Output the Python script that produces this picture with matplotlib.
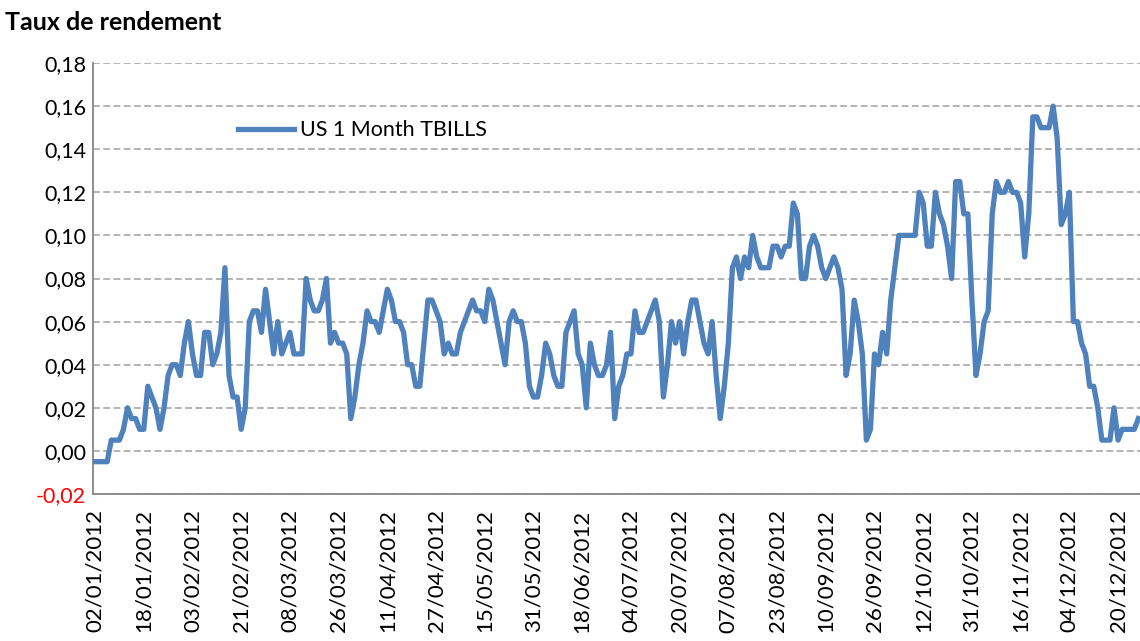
import matplotlib
matplotlib.use("Agg")
import matplotlib.pyplot as plt
from matplotlib.ticker import FuncFormatter

plt.rcParams['font.family'] = ['Lato', 'DejaVu Sans']

# daily 1-month T-bill yields, 2012 (one value per weekday)
tbills = [
    -0.005, -0.005, -0.005, -0.005, 0.005, 0.005, 0.005, 0.01, 0.02, 0.015, 0.015, 0.01,
    0.01, 0.03, 0.025, 0.02, 0.01, 0.02, 0.035, 0.04, 0.04, 0.035, 0.05, 0.06,
    0.045, 0.035, 0.035, 0.055, 0.055, 0.04, 0.045, 0.055, 0.085, 0.035, 0.025, 0.025,
    0.01, 0.02, 0.06, 0.065, 0.065, 0.055, 0.075, 0.06, 0.045, 0.06, 0.045, 0.05,
    0.055, 0.045, 0.045, 0.045, 0.08, 0.07, 0.065, 0.065, 0.07, 0.08, 0.05, 0.055,
    0.05, 0.05, 0.045, 0.015, 0.025, 0.04, 0.05, 0.065, 0.06, 0.06, 0.055, 0.065,
    0.075, 0.07, 0.06, 0.06, 0.055, 0.04, 0.04, 0.03, 0.03, 0.05, 0.07, 0.07,
    0.065, 0.06, 0.045, 0.05, 0.045, 0.045, 0.055, 0.06, 0.065, 0.07, 0.065, 0.065,
    0.06, 0.075, 0.07, 0.06, 0.05, 0.04, 0.06, 0.065, 0.06, 0.06, 0.05, 0.03,
    0.025, 0.025, 0.035, 0.05, 0.045, 0.035, 0.03, 0.03, 0.055, 0.06, 0.065, 0.045,
    0.04, 0.02, 0.05, 0.04, 0.035, 0.035, 0.04, 0.055, 0.015, 0.03, 0.035, 0.045,
    0.045, 0.065, 0.055, 0.055, 0.06, 0.065, 0.07, 0.06, 0.025, 0.04, 0.06, 0.05,
    0.06, 0.045, 0.06, 0.07, 0.07, 0.06, 0.05, 0.045, 0.06, 0.035, 0.015, 0.03,
    0.05, 0.085, 0.09, 0.08, 0.09, 0.085, 0.1, 0.09, 0.085, 0.085, 0.085, 0.095,
    0.095, 0.09, 0.095, 0.095, 0.115, 0.11, 0.08, 0.08, 0.095, 0.1, 0.095, 0.085,
    0.08, 0.085, 0.09, 0.085, 0.075, 0.035, 0.045, 0.07, 0.06, 0.045, 0.005, 0.01,
    0.045, 0.04, 0.055, 0.045, 0.07, 0.085, 0.1, 0.1, 0.1, 0.1, 0.1, 0.12,
    0.115, 0.095, 0.095, 0.12, 0.11, 0.105, 0.095, 0.08, 0.125, 0.125, 0.11, 0.11,
    0.07, 0.035, 0.045, 0.06, 0.065, 0.11, 0.125, 0.12, 0.12, 0.125, 0.12, 0.12,
    0.115, 0.09, 0.11, 0.155, 0.155, 0.15, 0.15, 0.15, 0.16, 0.145, 0.105, 0.11,
    0.12, 0.06, 0.06, 0.05, 0.045, 0.03, 0.03, 0.02, 0.005, 0.005, 0.005, 0.02,
    0.005, 0.01, 0.01, 0.01, 0.01, 0.015,
]

date_labels = [
    "02/01/2012", "18/01/2012", "03/02/2012", "21/02/2012", "08/03/2012", "26/03/2012",
    "11/04/2012", "27/04/2012", "15/05/2012", "31/05/2012", "18/06/2012", "04/07/2012",
    "20/07/2012", "07/08/2012", "23/08/2012", "10/09/2012", "26/09/2012", "12/10/2012",
    "31/10/2012", "16/11/2012", "04/12/2012", "20/12/2012",
]
label_step = 12
y_ticks = [-0.02, 0.0, 0.02, 0.04, 0.06, 0.08, 0.10, 0.12, 0.14, 0.16, 0.18]

fig = plt.figure(figsize=(11.4, 6.41), dpi=100)
ax = fig.add_axes([93 / 1140, 147 / 641, 1 - 93 / 1140, 431 / 641])

ax.plot(range(len(tbills)), tbills, color='#4F81BD', lw=3.8,
        solid_joinstyle='round', label='US 1 Month TBILLS', zorder=3)

ax.set_ylim(-0.02, 0.18)
ax.set_xlim(-0.5, 257.4)
ax.set_yticks(y_ticks)
ax.yaxis.set_major_formatter(FuncFormatter(lambda v, p: f"{v:.2f}".replace('.', ',')))
ax.grid(axis='y', color='#A0A0A0', linestyle=(0, (4.5, 2.2)), lw=1.1)
ax.set_axisbelow(True)

ax.set_xticks(range(0, len(tbills), label_step))
ax.set_xticklabels(date_labels, rotation=90, va='top', ha='center')

ax.tick_params(axis='y', length=0, pad=5, labelsize=15.5)
ax.tick_params(axis='x', length=0, pad=11, labelsize=16)
for lab in ax.get_yticklabels():
    if lab.get_text().startswith('-'):
        lab.set_color('#FF0000')

for s in ['top', 'right']:
    ax.spines[s].set_visible(False)
for s in ['left', 'bottom']:
    ax.spines[s].set_color('#868686')
    ax.spines[s].set_linewidth(1.3)

ax.legend(loc='upper left', bbox_to_anchor=(0.12, 0.912), frameon=False,
          fontsize=15.5, handlelength=2.6, handletextpad=0.3)

fig.text(5 / 1140, 1 - 30 / 641, "Taux de rendement", fontsize=18,
         fontweight='bold')

fig.savefig("out.png", dpi=100)
